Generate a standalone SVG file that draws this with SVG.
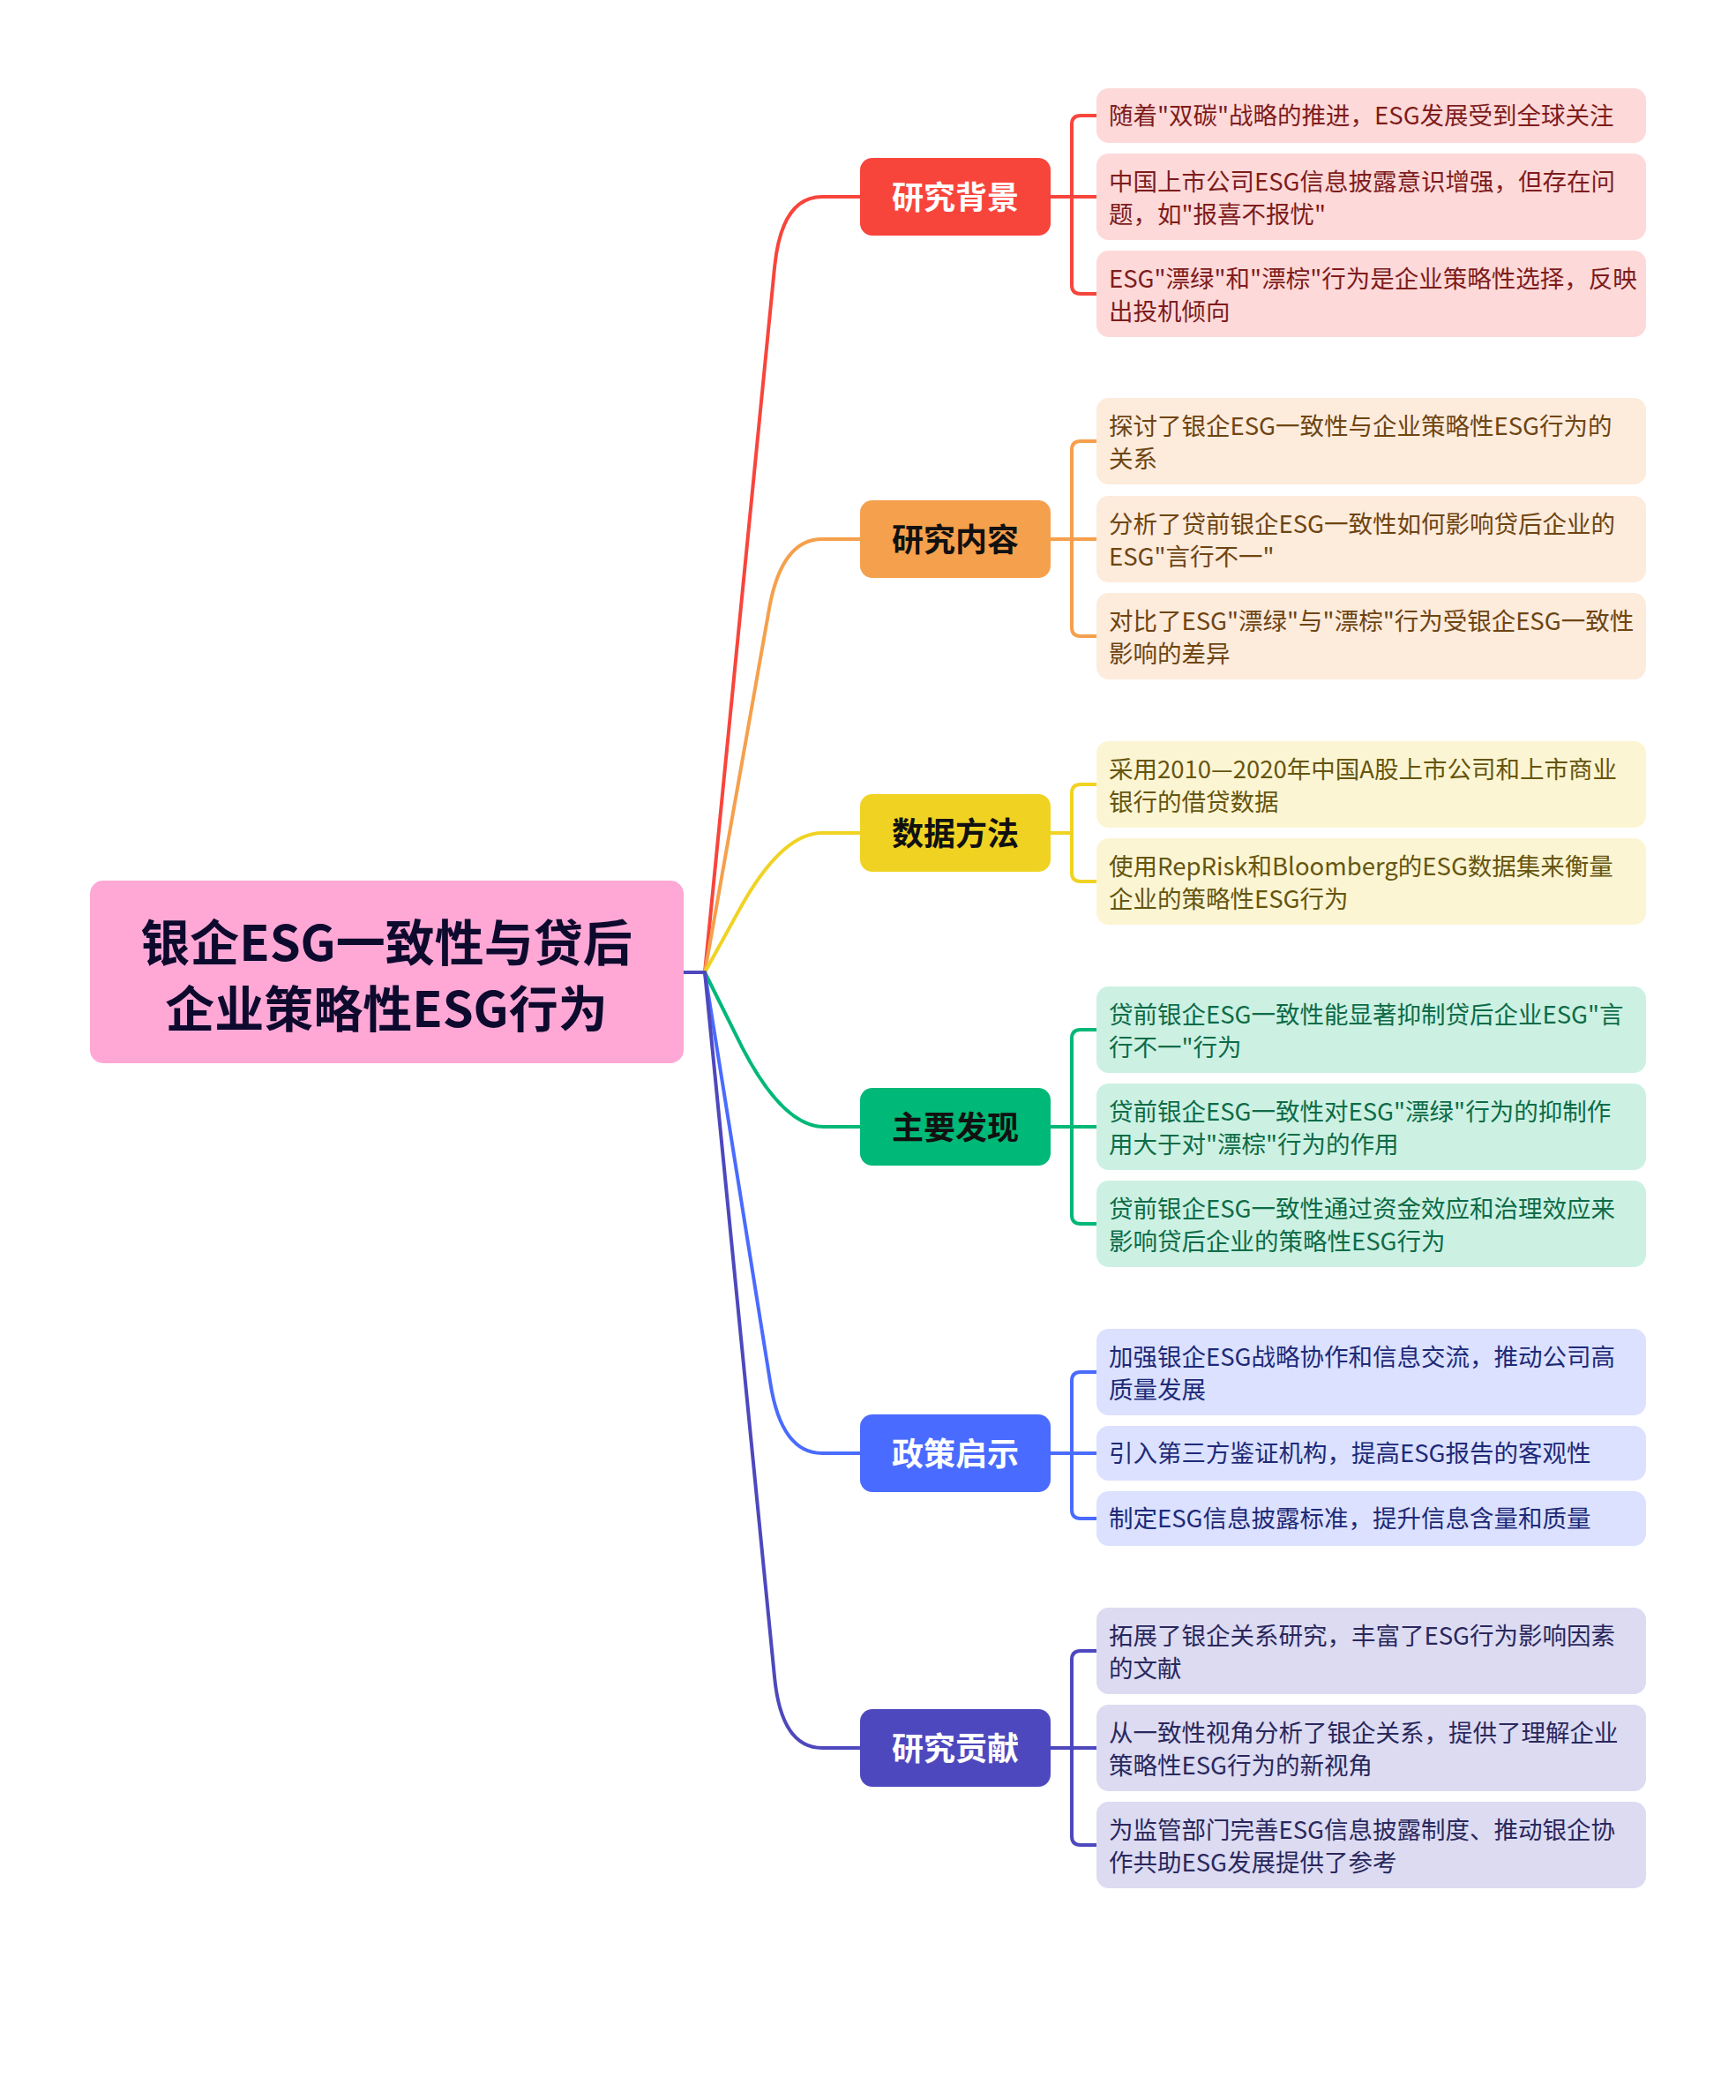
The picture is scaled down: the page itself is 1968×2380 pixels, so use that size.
<svg xmlns="http://www.w3.org/2000/svg" width="1968" height="2380" viewBox="0 0 1968 2380">
<style>
text{font-family:"Noto Sans CJK SC","Noto Sans",sans-serif}
.root{font-size:56px;font-weight:700;fill:#0D0A2E}
.br{font-size:36px;font-weight:700;text-anchor:middle}
.lf{font-size:27.5px;font-weight:400}
.c{fill:none;stroke-width:4;stroke-linecap:round;stroke-linejoin:round}
</style>
<rect width="1968" height="2380" fill="#FFFFFF"/>
<g id="connectors">
<path class="c" stroke="#F8453C" d="M799,1102 L878.1,302.6 Q886,223 932,223 L975,223"/>
<path class="c" stroke="#F5A04C" d="M799,1102 L872,689.8 Q886,611 932,611 L975,611"/>
<path class="c" stroke="#F0D322" d="M799,1102 L837.8,1031.6 Q886,944 932,944 L975,944"/>
<path class="c" stroke="#00B877" d="M799,1102 L841.5,1187.4 Q888,1277 934,1277 L975,1277"/>
<path class="c" stroke="#4A6BFF" d="M799,1102 L873.4,1568 Q886,1647 932,1647 L975,1647"/>
<path class="c" stroke="#4E48BE" d="M799,1102 L878.1,1901.4 Q886,1981 932,1981 L975,1981"/>
<path class="c" stroke="#4E48BE" stroke-width="5" d="M775,1102 L799,1102"/>
<path class="c" stroke="#F8453C" d="M1191,223 L1243,223 M1243,131 L1225,131 Q1215,131 1215,141 L1215,323 Q1215,333 1225,333 L1243,333"/>
<path class="c" stroke="#F5A04C" d="M1191,611 L1243,611 M1243,500 L1225,500 Q1215,500 1215,510 L1215,711 Q1215,721 1225,721 L1243,721"/>
<path class="c" stroke="#F0D322" d="M1191,944 L1215,944 M1243,889 L1225,889 Q1215,889 1215,899 L1215,989 Q1215,999 1225,999 L1243,999"/>
<path class="c" stroke="#00B877" d="M1191,1277 L1243,1277 M1243,1167 L1225,1167 Q1215,1167 1215,1177 L1215,1377 Q1215,1387 1225,1387 L1243,1387"/>
<path class="c" stroke="#4A6BFF" d="M1191,1647 L1243,1647 M1243,1555 L1225,1555 Q1215,1555 1215,1565 L1215,1711 Q1215,1721 1225,1721 L1243,1721"/>
<path class="c" stroke="#4E48BE" d="M1191,1981 L1243,1981 M1243,1871 L1225,1871 Q1215,1871 1215,1881 L1215,2081 Q1215,2091 1225,2091 L1243,2091"/>
</g>
<g id="root">
<rect x="102" y="998" width="673" height="207" rx="15" fill="#FFA8D5"/>
<text class="root" x="438" y="1089" text-anchor="middle">银企ESG一致性与贷后</text>
<text class="root" x="438" y="1164" text-anchor="middle">企业策略性ESG行为</text>
</g>
<g id="b1">
<rect x="975" y="179" width="216" height="88" rx="14" fill="#F8453C"/>
<text class="br" x="1083" y="237" fill="#FFFFFF">研究背景</text>
</g>
<g id="b2">
<rect x="975" y="567" width="216" height="88" rx="14" fill="#F5A04C"/>
<text class="br" x="1083" y="625" fill="#111111">研究内容</text>
</g>
<g id="b3">
<rect x="975" y="900" width="216" height="88" rx="14" fill="#F0D322"/>
<text class="br" x="1083" y="958" fill="#111111">数据方法</text>
</g>
<g id="b4">
<rect x="975" y="1233" width="216" height="88" rx="14" fill="#00B877"/>
<text class="br" x="1083" y="1291" fill="#111111">主要发现</text>
</g>
<g id="b5">
<rect x="975" y="1603" width="216" height="88" rx="14" fill="#4A6BFF"/>
<text class="br" x="1083" y="1661" fill="#FFFFFF">政策启示</text>
</g>
<g id="b6">
<rect x="975" y="1937" width="216" height="88" rx="14" fill="#4E48BE"/>
<text class="br" x="1083" y="1995" fill="#FFFFFF">研究贡献</text>
</g>
<g id="l1a"><rect x="1243" y="100" width="623" height="62" rx="14" fill="#FDD9D9"/><text class="lf" x="1257" y="141" fill="#7E1C1C">随着"双碳"战略的推进，ESG发展受到全球关注</text></g>
<g id="l1b"><rect x="1243" y="174" width="623" height="98" rx="14" fill="#FDD9D9"/><text class="lf" x="1257" y="216" fill="#7E1C1C">中国上市公司ESG信息披露意识增强，但存在问</text><text class="lf" x="1257" y="253" fill="#7E1C1C">题，如"报喜不报忧"</text></g>
<g id="l1c"><rect x="1243" y="284" width="623" height="98" rx="14" fill="#FDD9D9"/><text class="lf" x="1257" y="326" fill="#7E1C1C">ESG"漂绿"和"漂棕"行为是企业策略性选择，反映</text><text class="lf" x="1257" y="363" fill="#7E1C1C">出投机倾向</text></g>
<g id="l2a"><rect x="1243" y="451" width="623" height="98" rx="14" fill="#FDEBDC"/><text class="lf" x="1257" y="493" fill="#6E4512">探讨了银企ESG一致性与企业策略性ESG行为的</text><text class="lf" x="1257" y="530" fill="#6E4512">关系</text></g>
<g id="l2b"><rect x="1243" y="562" width="623" height="98" rx="14" fill="#FDEBDC"/><text class="lf" x="1257" y="604" fill="#6E4512">分析了贷前银企ESG一致性如何影响贷后企业的</text><text class="lf" x="1257" y="641" fill="#6E4512">ESG"言行不一"</text></g>
<g id="l2c"><rect x="1243" y="672" width="623" height="98" rx="14" fill="#FDEBDC"/><text class="lf" x="1257" y="714" fill="#6E4512">对比了ESG"漂绿"与"漂棕"行为受银企ESG一致性</text><text class="lf" x="1257" y="751" fill="#6E4512">影响的差异</text></g>
<g id="l3a"><rect x="1243" y="840" width="623" height="98" rx="14" fill="#FCF5D3"/><text class="lf" x="1257" y="882" fill="#665510">采用2010—2020年中国A股上市公司和上市商业</text><text class="lf" x="1257" y="919" fill="#665510">银行的借贷数据</text></g>
<g id="l3b"><rect x="1243" y="950" width="623" height="98" rx="14" fill="#FCF5D3"/><text class="lf" x="1257" y="992" fill="#665510">使用RepRisk和Bloomberg的ESG数据集来衡量</text><text class="lf" x="1257" y="1029" fill="#665510">企业的策略性ESG行为</text></g>
<g id="l4a"><rect x="1243" y="1118" width="623" height="98" rx="14" fill="#CCF1E3"/><text class="lf" x="1257" y="1160" fill="#0E6B47">贷前银企ESG一致性能显著抑制贷后企业ESG"言</text><text class="lf" x="1257" y="1197" fill="#0E6B47">行不一"行为</text></g>
<g id="l4b"><rect x="1243" y="1228" width="623" height="98" rx="14" fill="#CCF1E3"/><text class="lf" x="1257" y="1270" fill="#0E6B47">贷前银企ESG一致性对ESG"漂绿"行为的抑制作</text><text class="lf" x="1257" y="1307" fill="#0E6B47">用大于对"漂棕"行为的作用</text></g>
<g id="l4c"><rect x="1243" y="1338" width="623" height="98" rx="14" fill="#CCF1E3"/><text class="lf" x="1257" y="1380" fill="#0E6B47">贷前银企ESG一致性通过资金效应和治理效应来</text><text class="lf" x="1257" y="1417" fill="#0E6B47">影响贷后企业的策略性ESG行为</text></g>
<g id="l5a"><rect x="1243" y="1506" width="623" height="98" rx="14" fill="#DBE1FE"/><text class="lf" x="1257" y="1548" fill="#1E2A78">加强银企ESG战略协作和信息交流，推动公司高</text><text class="lf" x="1257" y="1585" fill="#1E2A78">质量发展</text></g>
<g id="l5b"><rect x="1243" y="1616" width="623" height="62" rx="14" fill="#DBE1FE"/><text class="lf" x="1257" y="1657" fill="#1E2A78">引入第三方鉴证机构，提高ESG报告的客观性</text></g>
<g id="l5c"><rect x="1243" y="1690" width="623" height="62" rx="14" fill="#DBE1FE"/><text class="lf" x="1257" y="1731" fill="#1E2A78">制定ESG信息披露标准，提升信息含量和质量</text></g>
<g id="l6a"><rect x="1243" y="1822" width="623" height="98" rx="14" fill="#DCDBF2"/><text class="lf" x="1257" y="1864" fill="#2A285C">拓展了银企关系研究，丰富了ESG行为影响因素</text><text class="lf" x="1257" y="1901" fill="#2A285C">的文献</text></g>
<g id="l6b"><rect x="1243" y="1932" width="623" height="98" rx="14" fill="#DCDBF2"/><text class="lf" x="1257" y="1974" fill="#2A285C">从一致性视角分析了银企关系，提供了理解企业</text><text class="lf" x="1257" y="2011" fill="#2A285C">策略性ESG行为的新视角</text></g>
<g id="l6c"><rect x="1243" y="2042" width="623" height="98" rx="14" fill="#DCDBF2"/><text class="lf" x="1257" y="2084" fill="#2A285C">为监管部门完善ESG信息披露制度、推动银企协</text><text class="lf" x="1257" y="2121" fill="#2A285C">作共助ESG发展提供了参考</text></g>
</svg>
